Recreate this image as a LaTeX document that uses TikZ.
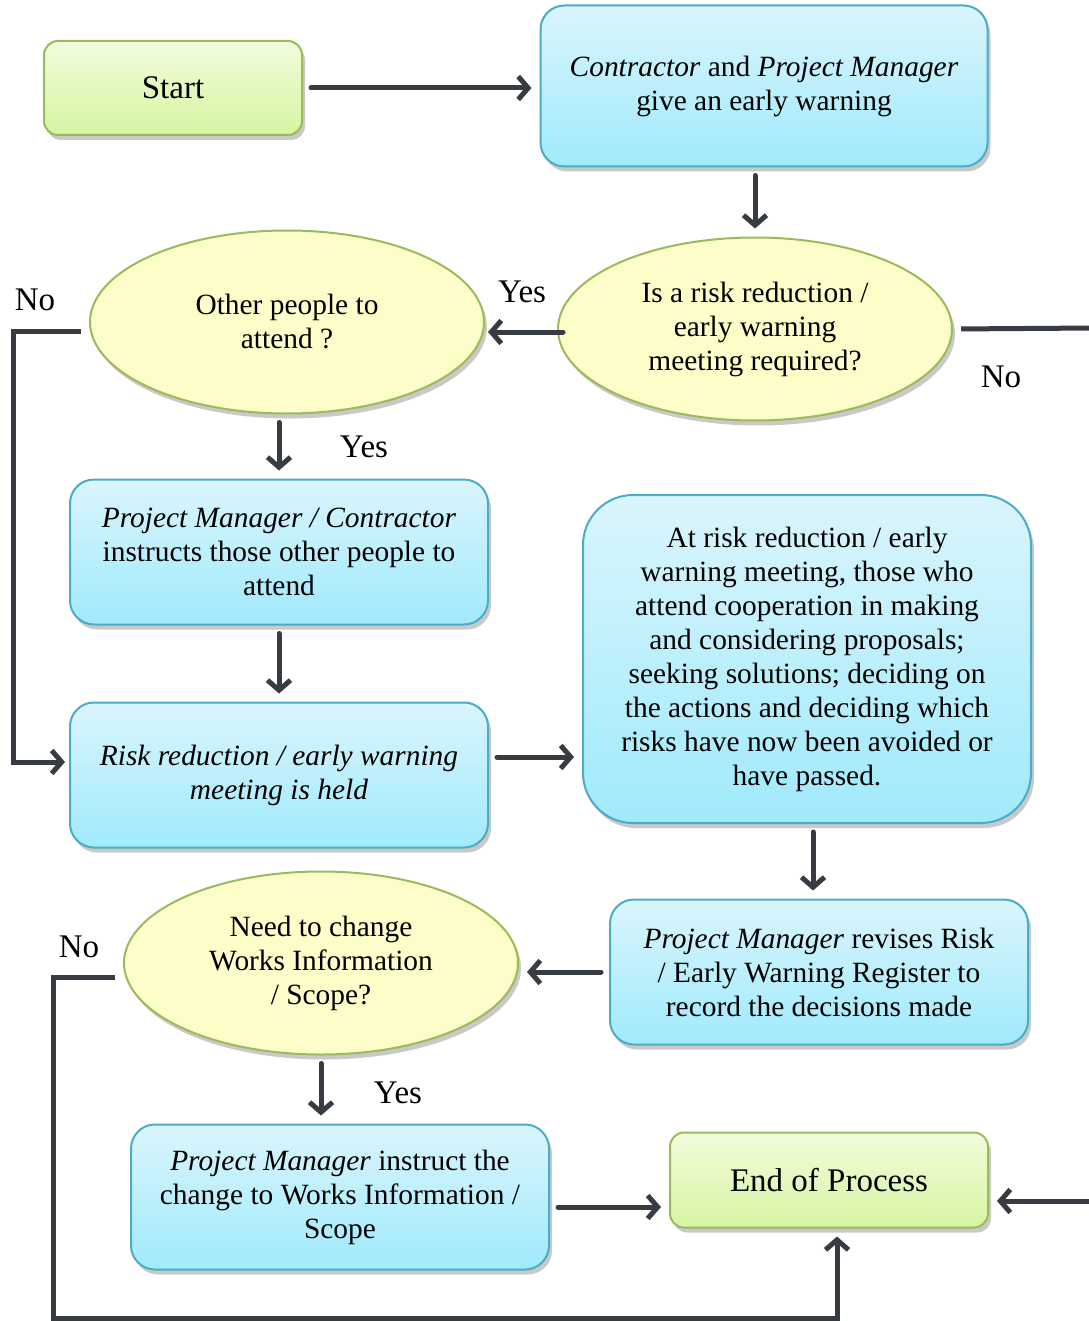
\documentclass[tikz,border=0pt]{standalone}
\usepackage{fontspec}
\setmainfont{Liberation Serif}
\usetikzlibrary{arrows.meta,positioning,shapes.geometric,shadows}

\definecolor{lgtop}{RGB}{242,252,220}
\definecolor{lgbot}{RGB}{214,245,162}
\definecolor{lgline}{RGB}{155,187,89}
\definecolor{lbtop}{RGB}{218,245,252}
\definecolor{lbbot}{RGB}{160,234,252}
\definecolor{lbline}{RGB}{75,172,198}
\definecolor{lyfill}{RGB}{253,253,202}
\definecolor{darrow}{RGB}{54,60,66}

\begin{document}
\begin{tikzpicture}[
    x=0.5pt, y=-0.5pt,
    font=\fontsize{14.7}{17}\selectfont,
    shade/.style={drop shadow={shadow xshift=1.5pt, shadow yshift=-2.5pt, opacity=0.35, fill=black!60}},
    terminal/.style={draw=lgline, line width=1pt, rounded corners=7pt, top color=lgtop, bottom color=lgbot, shade, align=center, font=\fontsize{16.5}{19}\selectfont},
    process/.style={draw=lbline, line width=1pt, rounded corners=12pt, top color=lbtop, bottom color=lbbot, shade, align=center, minimum width=209pt, minimum height=72.5pt},
    decision/.style={ellipse, draw=lgline, line width=1pt, fill=lyfill, shade, align=center, inner sep=0pt, minimum width=197pt, minimum height=91.5pt},
    answer/.style={font=\fontsize{16.5}{19}\selectfont},
    arrow/.style={-{Straight Barb[length=5pt,width=11.5pt]}, line width=2.5pt, darrow, line cap=round, shorten >=4pt, shorten <=4pt},
    link/.style={line width=2.5pt, darrow, shorten <=4pt}
]
\useasboundingbox[fill=white] (0,0) rectangle (1088,1321);

% Top row
\node[terminal, minimum width=129pt, minimum height=47pt] (start) at (173,88) {Start};
\node[process, minimum width=223.5pt, minimum height=80.5pt] (warn) at (764,86)
    {\textit{Contractor} and \textit{Project Manager}\\give an early warning};

% Decisions
\node[decision] (meet) at (755,329) {Is a risk reduction /\\early warning\\meeting required?};
\node[decision] (other) at (287,322) {Other people to\\attend ?};

% Left column
\node[process] (instr) at (279,552)
    {\textit{Project Manager / Contractor}\\instructs those other people to\\attend};
\node[process] (held) at (279,775)
    {\textit{Risk reduction / early warning}\\\textit{meeting is held}};

% Right column
\node[process, rounded corners=25pt, minimum width=224pt, minimum height=164pt] (coop) at (807,659)
    {At risk reduction / early\\warning meeting, those who\\attend cooperation in making\\and considering proposals;\\seeking solutions; deciding on\\the actions and deciding which\\risks have now been avoided or\\have passed.};
\node[process] (revise) at (819,972)
    {\textit{Project Manager} revises Risk\\/ Early Warning Register to\\record the decisions made};

% Bottom
\node[decision] (change) at (321,963) {Need to change\\Works Information\\/ Scope?};
\node[process] (pmi) at (340,1197)
    {\textit{Project Manager} instruct the\\change to Works Information /\\Scope};
\node[terminal, minimum width=159pt, minimum height=47.5pt] (stop) at (829,1180) {End of Process};

% Free ends
\coordinate (rno1) at (1096,328);
\coordinate (rno2) at (1096,1201);
\coordinate (lno) at (13,331);
\coordinate (bno) at (53,1318);

% Connectors
\draw[arrow] (start.east) -- (start.east -| warn.west);
\draw[arrow] (meet.north |- warn.south) -- (meet.north);
\draw[arrow, shorten <=-3pt, shorten >=1.5pt] ([yshift=-1.5pt]meet.west) -- ([yshift=-1.5pt]meet.west -| other.east);
\draw[arrow] (instr.north |- other.south) -- (instr.north);
\draw[arrow] (instr.south) -- (held.north);
\draw[arrow] ([yshift=9pt]held.east) -- ([yshift=9pt]held.east -| coop.west);
\draw[arrow] ([xshift=3pt]coop.south) -- ([xshift=3pt]coop.south |- revise.north);
\draw[arrow] (revise.west) -- (revise.west -| change.east);
\draw[arrow] (change.south) -- (change.south |- pmi.north);
\draw[arrow] ([yshift=-5pt]pmi.east) -- ([yshift=-5pt]pmi.east -| stop.west);

% No branches
\draw[link] (meet.east) -- (rno1);
\draw[arrow, shorten <=0pt] (rno2) -- (rno2 -| stop.east);
\draw[arrow, line cap=butt, shorten >=2pt] ([yshift=-4.5pt]other.west) -- (lno) |- ([yshift=6.5pt]held.west);
\draw[arrow, line cap=butt] ([yshift=-7pt]change.west) -| (bno) -| ([xshift=4pt]stop.south);

% Labels
\node[answer] (yes1) at (522,292) {Yes};
\node[answer] (no1) at (1001,377) {No};
\node[answer] (yes2) at (364,447) {Yes};
\node[answer] (no2) at (35,300) {No};
\node[answer] (yes3) at (398,1093) {Yes};
\node[answer] (no3) at (79,947) {No};

\end{tikzpicture}
\end{document}
